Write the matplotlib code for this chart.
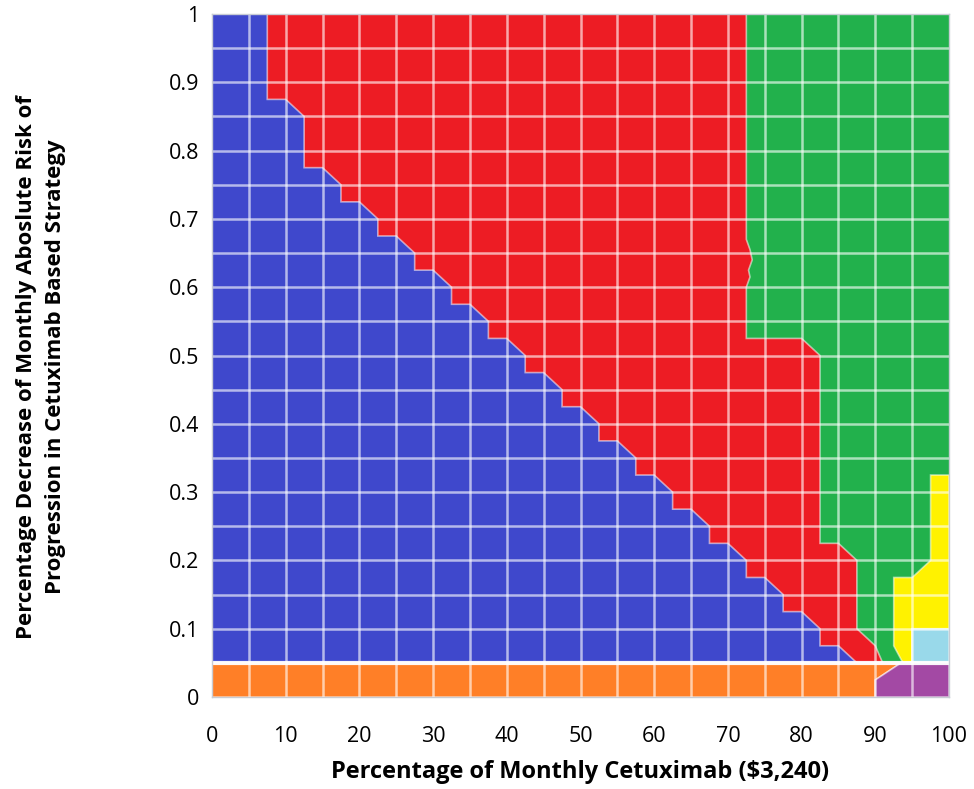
import matplotlib
matplotlib.use("Agg")
import matplotlib.pyplot as plt
from matplotlib.patches import Polygon

plt.rcParams['font.family'] = ['Open Sans', 'DejaVu Sans']

# ---- data: region boundaries (x = % of monthly cetuximab, y = decrease of risk) ----
# upper edge of blue region (going from top-left down to the bottom strip)
blue_x = [0, 7.5, 7.5, 10, 12.5, 12.5, 15, 17.5, 17.5, 20, 22.5, 22.5, 25, 27.5, 27.5,
          30, 32.5, 32.5, 35, 37.5, 37.5, 40, 42.5, 42.5, 45, 47.5, 47.5, 50, 52.5, 52.5,
          55, 57.5, 57.5, 60, 62.5, 62.5, 65, 67.5, 67.5, 70, 72.5, 72.5, 75, 77.5, 77.5,
          80, 82.5, 82.5, 85, 87.5]
blue_y = [1.0, 1.0, 0.875, 0.875, 0.85, 0.775, 0.775, 0.75, 0.725, 0.725, 0.70, 0.675,
          0.675, 0.65, 0.625, 0.625, 0.60, 0.575, 0.575, 0.55, 0.525, 0.525, 0.50, 0.475,
          0.475, 0.45, 0.425, 0.425, 0.40, 0.375, 0.375, 0.35, 0.325, 0.325, 0.30, 0.275,
          0.275, 0.25, 0.225, 0.225, 0.20, 0.175, 0.175, 0.15, 0.125, 0.125, 0.10, 0.075,
          0.075, 0.05]

# right edge of red region (red / green boundary)
red_x = [72.5, 72.5, 73.0, 73.3, 72.8, 73.0, 72.5, 72.5, 80, 82.5, 82.5, 85, 87.5, 87.5, 90, 91]
red_y = [1.0, 0.67, 0.655, 0.64, 0.625, 0.615, 0.60, 0.525, 0.525, 0.50, 0.225, 0.225,
         0.20, 0.10, 0.075, 0.05]

# yellow region outline
yellow_x = [92.5, 95, 97.5, 97.5, 100, 100, 95, 95, 93.75, 92.5]
yellow_y = [0.175, 0.175, 0.20, 0.325, 0.325, 0.10, 0.10, 0.05, 0.05, 0.075]

# light blue region outline
lightblue_x = [95, 100, 100, 95]
lightblue_y = [0.05, 0.05, 0.10, 0.10]

# bottom strip: orange and purple
orange_x = [0, 90, 90, 93.5, 0]
orange_y = [0, 0, 0.025, 0.05, 0.05]
purple_x = [90, 100, 100, 93.5, 90]
purple_y = [0, 0, 0.05, 0.05, 0.025]

x_ticks = [0, 10, 20, 30, 40, 50, 60, 70, 80, 90, 100]
y_ticks = [0, 0.1, 0.2, 0.3, 0.4, 0.5, 0.6, 0.7, 0.8, 0.9, 1]
y_tick_labels = ['0', '0.1', '0.2', '0.3', '0.4', '0.5', '0.6', '0.7', '0.8', '0.9', '1']

c_blue = '#3f48cc'
c_red = '#ed1c24'
c_green = '#22b14c'
c_yellow = '#fff200'
c_lblue = '#99d9ea'
c_orange = '#ff7f27'
c_purple = '#a349a4'

fig = plt.figure(figsize=(9.74, 7.89), dpi=100)
ax = fig.add_axes([212/974, (789-697)/789, (949-212)/974, (697-14)/789])
ax.set_xlim(0, 100)
ax.set_ylim(0, 1)

edge = dict(edgecolor=(1, 1, 1, 0.55), linewidth=1.2, joinstyle='miter')

# green background above the bottom strip
ax.add_patch(Polygon([(0, 0.05), (100, 0.05), (100, 1), (0, 1)], closed=True,
                     facecolor=c_green, edgecolor='none', zorder=1))
# red: everything left of the red/green boundary
red_poly = [(0, 1)] + list(zip(red_x, red_y)) + [(0, 0.05)]
ax.add_patch(Polygon(red_poly, closed=True, facecolor=c_red, zorder=2, **edge))
# blue: below its upper edge
blue_poly = list(zip(blue_x, blue_y)) + [(0, 0.05)]
ax.add_patch(Polygon(blue_poly, closed=True, facecolor=c_blue, zorder=3, **edge))
ax.add_patch(Polygon(list(zip(yellow_x, yellow_y)), closed=True, facecolor=c_yellow, zorder=3, **edge))
ax.add_patch(Polygon(list(zip(lightblue_x, lightblue_y)), closed=True, facecolor=c_lblue, zorder=3, **edge))
ax.add_patch(Polygon(list(zip(orange_x, orange_y)), closed=True, facecolor=c_orange, zorder=3, **edge))
ax.add_patch(Polygon(list(zip(purple_x, purple_y)), closed=True, facecolor=c_purple, zorder=3, **edge))

# grid
for gx in range(5, 100, 5):
    ax.axvline(gx, color='white', alpha=0.62, lw=1.8, zorder=5)
for i in range(1, 20):
    gy = i * 0.05
    ax.axhline(gy, color='white', alpha=0.62 if i != 1 else 0.95, lw=1.8 if i != 1 else 3.0, zorder=5)

ax.set_xticks(x_ticks)
ax.set_yticks(y_ticks)
ax.set_yticklabels(y_tick_labels)
ax.tick_params(axis='both', length=0, labelsize=15.5)
ax.tick_params(axis='x', pad=21)
ax.tick_params(axis='y', pad=9)
for s in ax.spines.values():
    s.set_color('#c8ccd4')
    s.set_linewidth(1.0)
    s.set_zorder(6)

fig.text(580/974, 1 - 772/789, 'Percentage of Monthly Cetuximab ($3,240)',
         ha='center', va='center', fontsize=17, fontweight='bold')
fig.text(41/974, 1 - 367/789,
         'Percentage Decrease of Monthly Aboslute Risk of\nProgression in Cetuximab Based Strategy',
         ha='center', va='center', rotation=90, fontsize=16, fontweight='bold',
         linespacing=1.45)

fig.savefig('out.png', dpi=100)
